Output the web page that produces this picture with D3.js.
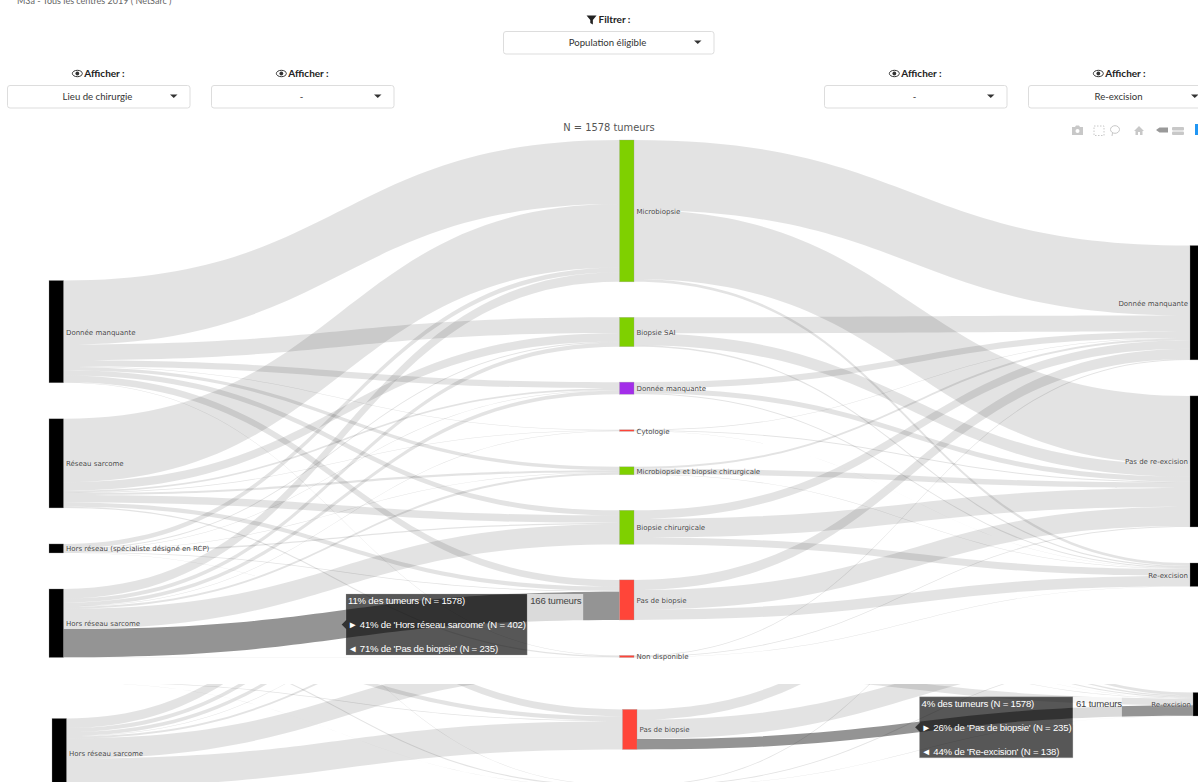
<!DOCTYPE html>
<html>
<head>
<meta charset="utf-8">
<script src="https://cdn.jsdelivr.net/npm/d3@7"></script>
<style>
    html, body {margin: 0; padding: 0; background: #fff; overflow: hidden;}
    svg {display: block;}
    .ui_text {font-family: Lato, "Open Sans", sans-serif; font-size: 9.6px; fill: #333;}
    .ui_label {font-weight: 700; fill: #222; font-size: 10px;}
    .ui_header {font-size: 9px; fill: #666;}
    .node_label {font-family: "DejaVu Sans", sans-serif; font-size: 7px; fill: #444; text-shadow: 0 0 1px #fff;}
    .hover_text {font-family: "Liberation Sans", Arial, sans-serif; font-size: 9.6px; letter-spacing: -0.2px;}
</style>
</head>
<body>
<svg id="chart" width="1198" height="782"></svg>
<script>

//categories
var left_names = ["Donnée manquante", "Réseau sarcome", "Hors réseau (spécialiste désigné en RCP)", "Hors réseau sarcome"];
var mid_names = ["Microbiopsie", "Biopsie SAI", "Donnée manquante", "Cytologie", "Microbiopsie et biopsie chirurgicale", "Biopsie chirurgicale", "Pas de biopsie", "Non disponible"];
var right_names = ["Donnée manquante", "Pas de re-excision", "Re-excision"];
var mid_colours = ["#7fd000", "#7fd000", "#a32ee9", "#ff4539", "#7fd000", "#7fd000", "#ff4539", "#ff4539"];

//tumour counts: one row per left node, one value per middle node
var left_to_mid = [
    [376, 92, 36, 3, 20, 30, 40, 3],
    [372, 50, 10, 3, 12, 44, 25, 7],
    [28, 6, 3, 0, 3, 8, 4, 1],
    [56, 24, 22, 3, 12, 118, 166, 1]
];

//tumour counts: one row per middle node, one value per right node
var mid_to_right = [
    [411, 404, 17],
    [94, 70, 8],
    [36, 29, 6],
    [3, 5, 1],
    [12, 32, 3],
    [50, 110, 40],
    [60, 114, 61],
    [5, 5, 2]
];

var total_tumours = 1578;

//dropdown captions
var filter_caption = "Filtrer :";
var show_caption = "Afficher :";
var filter_value = "Population éligible";
var show_values = ["Lieu de chirurgie", "-", "-", "Re-excision"];

var svg = d3.select("#chart");

//vertical scale shared by every node and link
var y_scale = d3.scaleLinear().domain([0, total_tumours]).range([0, 269]);

//build the nodes of one column, stacked from the top
function make_column(names, colours, totals, x, top, padding) {
    var y = top;
    return names.map(function(name, i) {
        var node = {name: name, colour: colours ? colours[i] : "#000", total: totals[i], x: x, width: 14.5, y: y, h: y_scale(totals[i])};
        y += node.h + padding;
        return node;
    });
}

var left_totals = left_to_mid.map(function(row) { return d3.sum(row); });
var mid_totals = mid_names.map(function(d, i) { return d3.sum(left_to_mid, function(row) { return row[i]; }); });
var right_totals = right_names.map(function(d, i) { return d3.sum(mid_to_right, function(row) { return row[i]; }); });

var left_nodes = make_column(left_names, null, left_totals, 49, 280.5, 36);
var mid_nodes = make_column(mid_names, mid_colours, mid_totals, 619.5, 140, 35.5);
var right_nodes = make_column(right_names, null, right_totals, 1190, 245.5, 36);

//stack the links on both of their ends, in the order of the nodes
function make_links(sources, targets, matrix) {
    var links = [];
    var target_offset = targets.map(function() { return 0; });
    matrix.forEach(function(row, s) {
        var source_offset = 0;
        row.forEach(function(value, t) {
            var w = y_scale(value);
            links.push({
                source: sources[s], target: targets[t], value: value, w: w,
                y0: sources[s].y + source_offset,
                y1: targets[t].y + target_offset[t]
            });
            source_offset += w;
            target_offset[t] += w;
        });
    });
    return links.filter(function(d) { return d.value > 0; });
}

var links = make_links(left_nodes, mid_nodes, left_to_mid).concat(make_links(mid_nodes, right_nodes, mid_to_right));

//same bezier as plotly: control points half way along the link
function link_path(d) {
    var x0 = d.source.x + d.source.width, x1 = d.target.x, xm = (x0 + x1) / 2;
    var p = d3.path();
    p.moveTo(x0, d.y0);
    p.bezierCurveTo(xm, d.y0, xm, d.y1, x1, d.y1);
    p.lineTo(x1, d.y1 + d.w);
    p.bezierCurveTo(xm, d.y1 + d.w, xm, d.y0 + d.w, x0, d.y0 + d.w);
    p.closePath();
    return p.toString();
}

function find_link(source_name, source_list, target_name, target_list) {
    return links.filter(function(d) {
        return d.source.name === source_name && d.target.name === target_name
            && source_list.indexOf(d.source) >= 0 && target_list.indexOf(d.target) >= 0;
    })[0];
}

//one copy of the sankey with one link hovered
function draw_sankey(parent, hovered, label_width) {

    parent.append("g").selectAll("path")
        .data(links)
        .enter().append("path")
        .attr("d", link_path)
        .attr("fill", "#000")
        .attr("fill-opacity", function(d) { return d === hovered ? 0.42 : 0.11; });

    var all_nodes = left_nodes.concat(mid_nodes, right_nodes);

    parent.append("g").selectAll("rect")
        .data(all_nodes)
        .enter().append("rect")
        .attr("x", function(d) { return d.x; })
        .attr("y", function(d) { return d.y; })
        .attr("width", function(d) { return d.width; })
        .attr("height", function(d) { return d.h; })
        .attr("fill", function(d) { return d.colour; })
        .attr("stroke", "#999")
        .attr("stroke-opacity", 0.6)
        .attr("stroke-width", 0.5);

    parent.append("g").selectAll("text")
        .data(all_nodes)
        .enter().append("text")
        .attr("class", "node_label")
        .attr("x", function(d) { return d.x > 1000 ? d.x - 2 : d.x + d.width + 2.5; })
        .attr("y", function(d) { return d.y + d.h / 2 + 3; })
        .attr("text-anchor", function(d) { return d.x > 1000 ? "end" : "start"; })
        .text(function(d) { return d.name; });

    draw_hover(parent, hovered, label_width);
}

//dark hover box with the three percentages, and the small count box next to it
function draw_hover(parent, d, label_width) {
    var tip_x = (d.source.x + d.source.width + d.target.x) / 2;
    var tip_y = (d.y0 + d.y1 + d.w) / 2;
    var box_x = tip_x + 4.5;
    var box_top = tip_y - 30.5;
    var box_h = 61;

    var lines = [
        Math.round(d.value / total_tumours * 100) + "% des tumeurs (N = " + total_tumours + ")",
        "► " + Math.round(d.value / d.source.total * 100) + "% de '" + d.source.name + "' (N = " + d.source.total + ")",
        "◄ " + Math.round(d.value / d.target.total * 100) + "% de '" + d.target.name + "' (N = " + d.target.total + ")"
    ];

    var group = parent.append("g");
    var shape = group.append("path").attr("fill", "#000").attr("fill-opacity", 0.66).attr("stroke", "#aaa").attr("stroke-opacity", 0.5).attr("stroke-width", 0.5);
    var texts = group.selectAll("text")
        .data(lines)
        .enter().append("text")
        .attr("class", "hover_text")
        .attr("fill", "#fff")
        .attr("x", box_x + 2)
        .attr("y", function(t, i) { return box_top + 10.5 + i * 24; })
        .text(function(t) { return t; });

    var box_w = d3.max(texts.nodes(), function(n) { return n.getComputedTextLength(); }) + 3.5;

    shape.attr("d", "M" + tip_x + "," + tip_y + "L" + box_x + "," + (tip_y - 4.5) + "V" + box_top + "H" + (box_x + box_w) + "V" + (box_top + box_h) + "H" + box_x + "V" + (tip_y + 4.5) + "Z");

    group.append("rect")
        .attr("x", box_x + box_w)
        .attr("y", box_top)
        .attr("width", label_width)
        .attr("height", 28)
        .attr("fill", "#fff")
        .attr("fill-opacity", 0.66);

    group.append("text")
        .attr("class", "hover_text")
        .attr("fill", "#444")
        .attr("x", box_x + box_w + 3)
        .attr("y", box_top + 10.5)
        .text(d.value + " tumeurs");
}

//top copy of the chart
var top_link = find_link("Hors réseau sarcome", left_nodes, "Pas de biopsie", mid_nodes);
draw_sankey(svg.append("g"), top_link, 56);

//second screenshot pasted below, only its lower part is visible
svg.append("defs").append("clipPath").attr("id", "clip_lower")
    .append("rect").attr("x", -10).attr("y", 684).attr("width", 1210).attr("height", 100);
var lower_link = find_link("Pas de biopsie", mid_nodes, "Re-excision", right_nodes);
draw_sankey(svg.append("g").attr("clip-path", "url(#clip_lower)").append("g").attr("transform", "translate(3,129.5)"), lower_link, 49);

//N title
svg.append("text")
    .attr("x", 609)
    .attr("y", 131)
    .attr("text-anchor", "middle")
    .attr("font-family", "'DejaVu Sans', sans-serif")
    .attr("font-size", 9.9)
    .attr("fill", "#555")
    .text("N = " + total_tumours + " tumeurs");

//page header, cut by the top of the screenshot
svg.append("text")
    .attr("class", "ui_text ui_header")
    .attr("x", 17)
    .attr("y", 4)
    .text("M3a - Tous les centres 2019 ( NetSarc )");

function draw_dropdown(x, width, y, caption, value, icon) {
    var g = svg.append("g");
    var cx = x + width / 2;

    g.append("rect")
        .attr("x", x + 0.5).attr("y", y + 0.5)
        .attr("width", width - 0.5).attr("height", 22.5)
        .attr("rx", 2.5)
        .attr("fill", "#fff").attr("stroke", "#ddd");

    g.append("text").attr("class", "ui_text").attr("x", cx - 1).attr("y", y + 14.5).attr("text-anchor", "middle").text(value);

    g.append("path")
        .attr("d", "M" + (x + width - 20) + "," + (y + 9.5) + "h7.5l-3.75,3.5z")
        .attr("fill", "#333");

    var label = g.append("text").attr("class", "ui_text ui_label").attr("x", cx + 6).attr("y", y - 8).attr("text-anchor", "middle").text(caption);
    var label_w = label.node().getComputedTextLength();
    var ix = cx + 6 - label_w / 2 - 7;
    var iy = y - 11.5;

    if (icon === "eye") {
        g.append("ellipse").attr("cx", ix).attr("cy", iy).attr("rx", 5).attr("ry", 3.2).attr("fill", "#fff").attr("stroke", "#333").attr("stroke-width", 1);
        g.append("circle").attr("cx", ix).attr("cy", iy).attr("r", 1.9).attr("fill", "#333");
    } else {
        g.append("path").attr("d", "M" + (ix - 5) + "," + (iy - 4) + "h10l-3.7,4.5v4.5l-2.6,-1.5v-3z").attr("fill", "#222");
    }
}

draw_dropdown(503, 211, 31, filter_caption, filter_value, "filter");
draw_dropdown(7, 183, 85, show_caption, show_values[0], "eye");
draw_dropdown(211, 183, 85, show_caption, show_values[1], "eye");
draw_dropdown(824, 183, 85, show_caption, show_values[2], "eye");
draw_dropdown(1028, 183, 85, show_caption, show_values[3], "eye");

//plotly modebar
var bar = svg.append("g").attr("fill", "#c8c8c8");
bar.append("path").attr("d", "M1072,127h3l1,-1.5h3l1,1.5h3v8h-11z");
bar.append("circle").attr("cx", 1077.5).attr("cy", 131).attr("r", 2).attr("fill", "#fff");
bar.append("rect").attr("x", 1094).attr("y", 126).attr("width", 10).attr("height", 9.5).attr("fill", "none").attr("stroke", "#c8c8c8").attr("stroke-dasharray", "1.5,1.5");
bar.append("ellipse").attr("cx", 1115).attr("cy", 129.5).attr("rx", 4.5).attr("ry", 3.8).attr("fill", "none").attr("stroke", "#c8c8c8");
bar.append("path").attr("d", "M1112.5,133l-0.5,3").attr("stroke", "#c8c8c8");
bar.append("path").attr("d", "M1134,131l5,-5l5,5h-1.5v4h-2.5v-3h-2v3h-2.5v-4z");
bar.append("path").attr("d", "M1156,130l3.5,-2.5h8.5v5h-8.5z").attr("fill", "#999");
bar.append("rect").attr("x", 1172).attr("y", 127).attr("width", 12).attr("height", 3.5).attr("rx", 1);
bar.append("rect").attr("x", 1172).attr("y", 131.5).attr("width", 12).attr("height", 3.5).attr("rx", 1);
bar.append("rect").attr("x", 1195).attr("y", 124).attr("width", 5).attr("height", 11).attr("fill", "#2196f3");

</script>
</body>
</html>
